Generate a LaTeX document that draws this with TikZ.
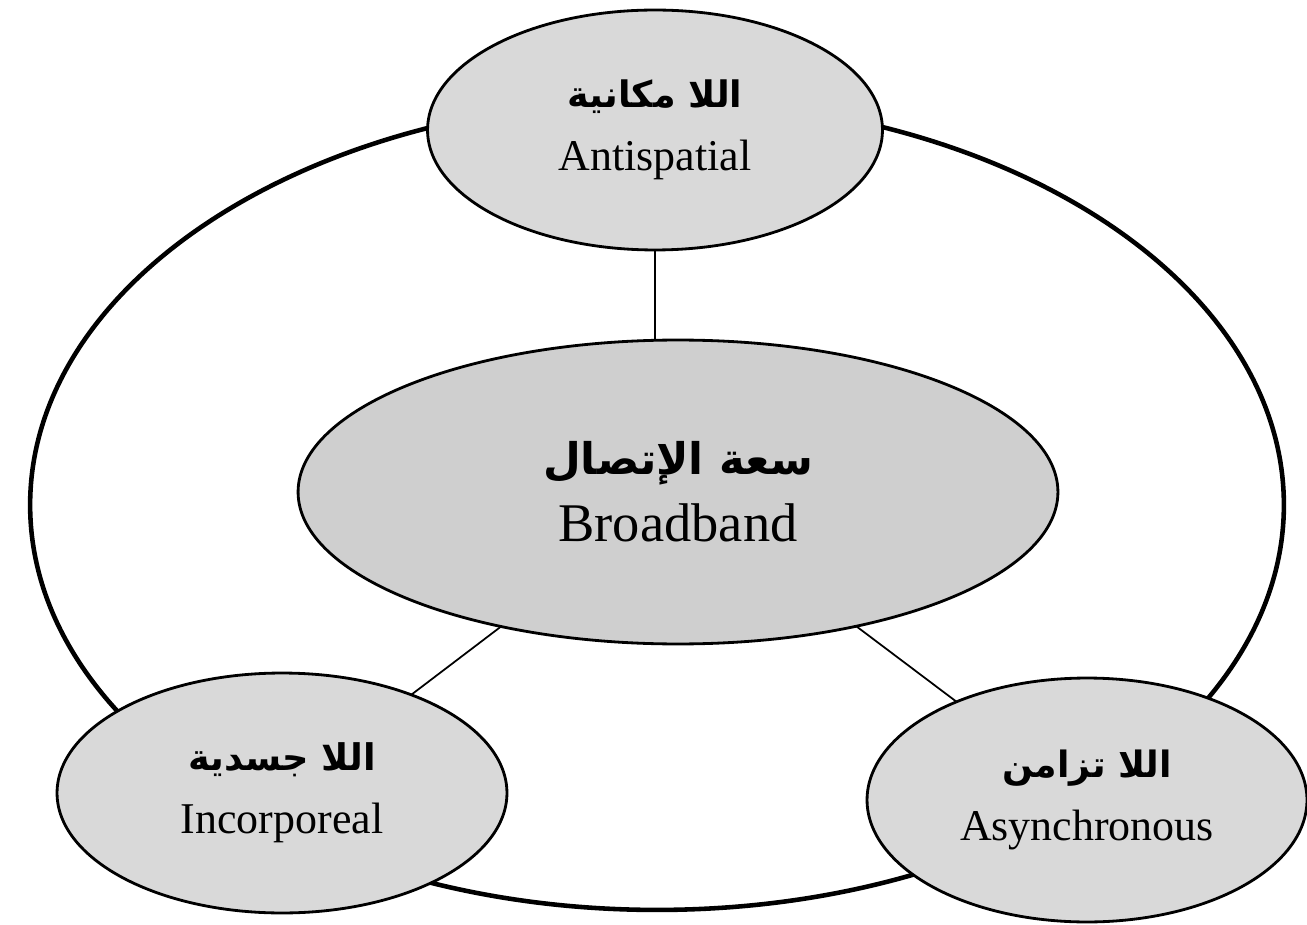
\documentclass[tikz,border=0pt]{standalone}
\usepackage{fontspec}
\usepackage{graphicx}
\setmainfont{Liberation Serif}
\newfontfamily\arabicfont[Script=Arabic]{DejaVu Sans}
\TeXXeTstate=1
\usetikzlibrary{shapes.geometric}
\tikzset{
  bubble/.style={ellipse, draw=black, line width=1.6pt, fill=gray!30,
    inner sep=0pt, outer sep=0pt, align=center,
    font=\fontsize{25}{36}\selectfont},
  link/.style={draw=black, line width=1pt},
  rim/.style={draw=black, line width=2.6pt},
}
\newcommand{\artext}[2]{\resizebox{#1}{!}{\arabicfont\bfseries #2}}
\begin{document}
\begin{tikzpicture}[x=0.02cm,y=-0.02cm]
\useasboundingbox (0,0) rectangle (1307,925);
\draw[rim] (657,505) ellipse [x radius=12.54cm, y radius=8.1cm];
\node[bubble, minimum width=9.1cm, minimum height=4.8cm] (top) at (655,130)
  {\artext{3.5cm}{\beginR اللا مكانية\endR}\\Antispatial};
\node[bubble, fill=gray!38, minimum width=15.2cm, minimum height=6.08cm,
  font=\fontsize{31}{38}\selectfont] (mid) at (678,492)
  {\artext{5.4cm}{\beginR سعة الإتصال\endR}\\Broadband};
\node[bubble, minimum width=9cm, minimum height=4.8cm] (left) at (282,793)
  {\artext{3.76cm}{\beginR اللا جسدية\endR}\\Incorporeal};
\node[bubble, minimum width=8.8cm, minimum height=4.88cm] (right) at (1087,800)
  {\artext{3.4cm}{\beginR اللا تزامن\endR}\\Asynchronous};
\draw[link] (top.south) -- (top.south |- mid.north);
\draw[link] (mid) -- (left);
\draw[link] (mid) -- (right);
\end{tikzpicture}
\end{document}
